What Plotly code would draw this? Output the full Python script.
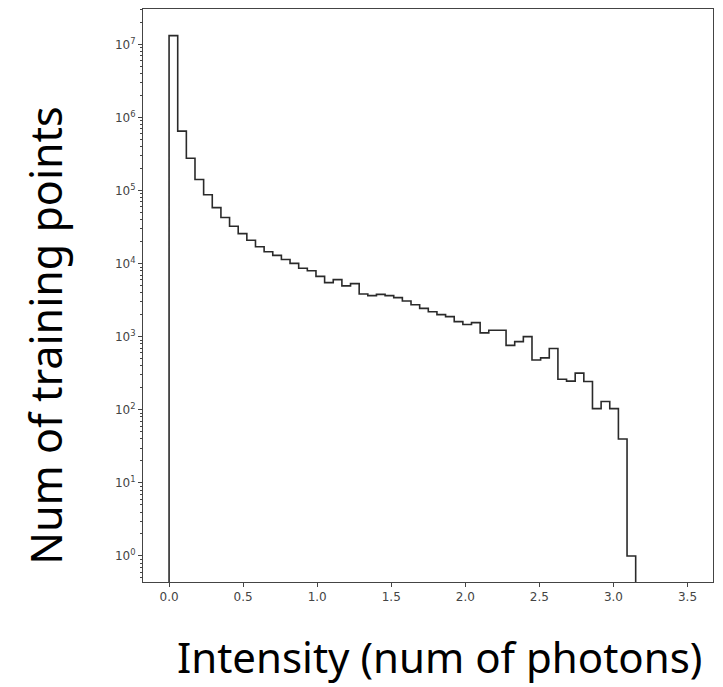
import plotly.graph_objects as go

# Histogram: 60 bins over [0, 3.5]; counts per bin (bins with zero counts omitted beyond 3.15)
BIN_LO = 0.0
BIN_HI = 3.5
N_BINS = 60
counts = [
    13250000, 652000, 277000, 142000, 87700, 58500, 42900, 32500, 25800, 20900,
    17100, 14600, 13000, 11400, 10100, 8650, 8000, 6720, 5510, 6060,
    4980, 5340, 3850, 3660, 3810, 3660, 3440, 3090, 2750, 2450,
    2200, 2010, 1890, 1610, 1470, 1560, 1130, 1230, 1230, 764,
    859, 1005, 481, 515, 691, 262, 247, 318, 244, 104,
    130, 104, 40, 1,
]
BASELINE = 1e-2  # floor of the step outline (below the visible log range)

x_ticks = [0.0, 0.5, 1.0, 1.5, 2.0, 2.5, 3.0, 3.5]
x_tick_text = ["0.0", "0.5", "1.0", "1.5", "2.0", "2.5", "3.0", "3.5"]
y_exponents = [0, 1, 2, 3, 4, 5, 6, 7]
minor_mult = [2, 3, 4, 5, 6, 7, 8, 9]

x_title = "Intensity (num of photons)"
y_title = "Num of training points"

width = (BIN_HI - BIN_LO) / N_BINS
edges = [BIN_LO + i * width for i in range(len(counts) + 1)]

# hv step outline: start at baseline at first edge, end at baseline at last edge
xs = [edges[0]] + edges
ys = [BASELINE] + counts + [BASELINE]

y_tick_vals = [10 ** e for e in y_exponents]
y_tick_text = ["10<sup>%d</sup>" % e for e in y_exponents]
y_minor_vals = [m * 10 ** e for e in range(-1, 8) for m in minor_mult]

fig = go.Figure()
fig.add_trace(go.Scatter(
    x=xs, y=ys, mode="lines",
    line=dict(shape="hv", color="#2a2a2a", width=1.6),
    showlegend=False, hoverinfo="skip",
))

axis_line = "#444444"
tick_font = dict(family="DejaVu Sans", size=12, color="#444444")

fig.update_xaxes(
    range=[-0.176, 3.672],
    tickvals=x_ticks, ticktext=x_tick_text,
    ticks="outside", ticklen=4, tickwidth=1, tickcolor=axis_line,
    showline=True, linecolor=axis_line, linewidth=1, mirror=True,
    showgrid=False, zeroline=False, tickfont=tick_font,
)
fig.update_yaxes(
    type="log", range=[-0.356, 7.486],
    tickmode="array", tickvals=y_tick_vals, ticktext=y_tick_text,
    ticks="outside", ticklen=4, tickwidth=1, tickcolor=axis_line,
    minor=dict(ticks="outside", ticklen=2.5, tickwidth=1, tickcolor=axis_line,
               tickmode="array", tickvals=y_minor_vals, showgrid=False),
    showline=True, linecolor=axis_line, linewidth=1, mirror=True,
    showgrid=False, zeroline=False, tickfont=tick_font,
)

fig.update_layout(
    width=723, height=687,
    margin=dict(l=143, r=10, t=9, b=105),
    plot_bgcolor="white", paper_bgcolor="white",
    annotations=[
        dict(text=x_title, xref="paper", yref="paper", x=0.52, y=-0.130,
             xanchor="center", yanchor="middle", showarrow=False,
             font=dict(family="Noto Sans", size=42, color="#000000")),
        dict(text=y_title, xref="paper", yref="paper", x=-0.171, y=0.429,
             xanchor="center", yanchor="middle", textangle=-90, showarrow=False,
             font=dict(family="Noto Sans", size=43, color="#000000")),
    ],
)

fig.write_html("out.html")
